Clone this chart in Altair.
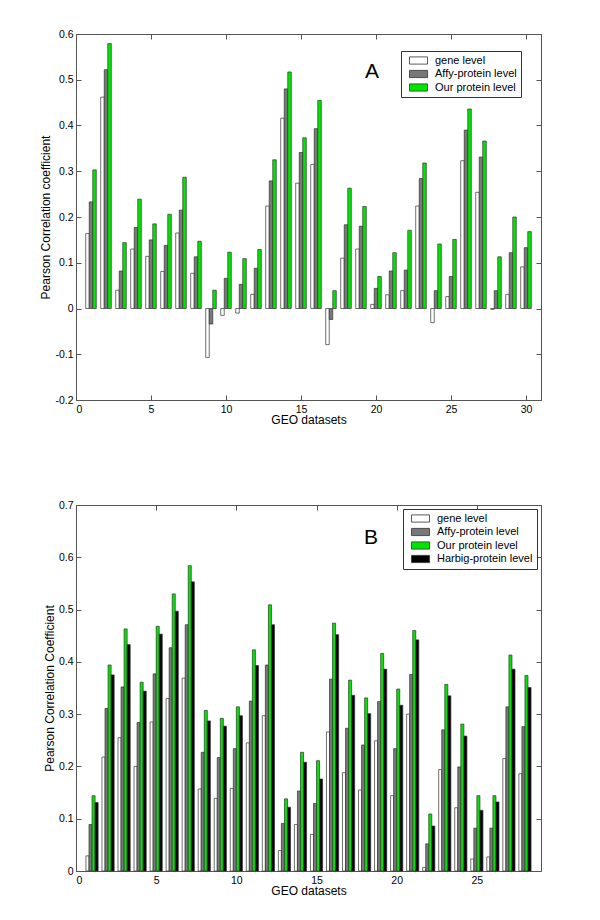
import altair as alt
import pandas as pd

FONT = "Liberation Sans"

# ---------------- Panel A data ----------------
A_datasets = list(range(1, 31))
A_names = ["gene level", "Affy-protein level", "Our protein level"]
A_gene = [0.164, 0.462, 0.040, 0.130, 0.114, 0.081, 0.165, 0.077, -0.107, -0.015,
          -0.010, 0.031, 0.224, 0.416, 0.274, 0.315, -0.079, 0.110, 0.130, 0.009,
          0.030, 0.039, 0.224, -0.031, 0.026, 0.323, 0.254, -0.002, 0.031, 0.091]
A_affy = [0.233, 0.522, 0.082, 0.177, 0.150, 0.138, 0.215, 0.113, -0.034, 0.066,
          0.053, 0.088, 0.279, 0.480, 0.341, 0.393, -0.024, 0.183, 0.180, 0.044,
          0.082, 0.084, 0.284, 0.039, 0.070, 0.390, 0.331, 0.039, 0.122, 0.133]
A_our = [0.303, 0.579, 0.144, 0.239, 0.185, 0.206, 0.287, 0.147, 0.040, 0.123,
         0.109, 0.129, 0.325, 0.517, 0.373, 0.455, 0.039, 0.263, 0.223, 0.070,
         0.122, 0.171, 0.318, 0.141, 0.151, 0.436, 0.366, 0.113, 0.200, 0.168]
A_xticks = [0, 5, 10, 15, 20, 25, 30]
A_yticks = [-0.2, -0.1, 0, 0.1, 0.2, 0.3, 0.4, 0.5, 0.6]

# ---------------- Panel B data ----------------
B_datasets = list(range(1, 29))
B_names = ["gene level", "Affy-protein level", "Our protein level", "Harbig-protein level"]
B_gene = [0.029, 0.218, 0.255, 0.200, 0.285, 0.330, 0.369, 0.157, 0.139, 0.158,
          0.245, 0.297, 0.039, 0.089, 0.070, 0.266, 0.188, 0.155, 0.249, 0.144,
          0.300, 0.007, 0.194, 0.121, 0.023, 0.027, 0.215, 0.186]
B_affy = [0.089, 0.311, 0.352, 0.284, 0.377, 0.427, 0.471, 0.227, 0.217, 0.234,
          0.325, 0.394, 0.091, 0.153, 0.129, 0.367, 0.273, 0.241, 0.324, 0.234,
          0.376, 0.052, 0.270, 0.199, 0.082, 0.082, 0.314, 0.276]
B_our = [0.144, 0.394, 0.463, 0.361, 0.468, 0.530, 0.584, 0.307, 0.292, 0.314,
         0.423, 0.509, 0.138, 0.227, 0.211, 0.474, 0.365, 0.331, 0.416, 0.348,
         0.460, 0.109, 0.357, 0.281, 0.144, 0.144, 0.413, 0.374]
B_harbig = [0.131, 0.375, 0.433, 0.344, 0.453, 0.497, 0.553, 0.287, 0.277, 0.297,
            0.393, 0.471, 0.122, 0.208, 0.176, 0.452, 0.336, 0.301, 0.386, 0.317,
            0.442, 0.086, 0.335, 0.258, 0.116, 0.132, 0.386, 0.351]
B_xticks = [0, 5, 10, 15, 20, 25]
B_yticks = [0, 0.1, 0.2, 0.3, 0.4, 0.5, 0.6, 0.7]

COLORS = {"gene level": "#ffffff", "Affy-protein level": "#787878",
          "Our protein level": "#00e600", "Harbig-protein level": "#000000"}


def to_long(datasets, names, series, w):
    rows = []
    n = len(names)
    for k, (name, vals) in enumerate(zip(names, series)):
        off = (k - (n - 1) / 2) * w
        for d, v in zip(datasets, vals):
            rows.append({"dataset": d, "series": name, "value": v,
                         "x0": d + off - w / 2, "x1": d + off + w / 2})
    return pd.DataFrame(rows)


LABEL_EXPR = "replace(format(datum.value, '.1~f'), '\u2212', '-')"


def panel(df, names, xdom, xticks, ydom, yticks, ytitle, letter, lx, ly, legx, legy):
    xs = alt.Scale(domain=xdom, nice=False, zero=False)
    ys = alt.Scale(domain=ydom, nice=False, zero=False)
    bars = alt.Chart(df).mark_bar(stroke="#333333", strokeWidth=0.7, opacity=1).encode(
        x=alt.X("x0:Q", scale=xs,
                axis=alt.Axis(orient="bottom", values=xticks, format="d", title="GEO datasets",
                              offset=-5, tickSize=5, labelPadding=4, titlePadding=0,
                              domain=False, grid=False)),
        x2="x1",
        y=alt.Y("value:Q", scale=ys,
                axis=alt.Axis(orient="left", values=yticks, labelExpr=LABEL_EXPR, title=ytitle,
                              offset=-5, tickSize=5, labelPadding=3, titlePadding=2,
                              domain=False, grid=False)),
        y2=alt.datum(0),
        color=alt.Color("series:N",
                        scale=alt.Scale(domain=names, range=[COLORS[n] for n in names]),
                        legend=alt.Legend(title=None, orient="none", legendX=legx, legendY=legy,
                                          fillColor="white", strokeColor="#333333", padding=4,
                                          symbolType="M-0.28,-1H4.72V1H-0.28Z", symbolSize=52,
                                          symbolStrokeColor="#333333", symbolStrokeWidth=0.8,
                                          symbolOpacity=1, labelOffset=19, rowPadding=1.5,
                                          labelFont=FONT, labelFontSize=11, labelColor="black")),
    )
    ghost = alt.Chart(df).mark_point(opacity=0).encode(
        x=alt.X("x0:Q", scale=xs,
                axis=alt.Axis(orient="top", values=xticks, labels=False, title=None,
                              offset=-5, tickSize=5, domain=False, grid=False)),
        y=alt.Y("value:Q", scale=ys,
                axis=alt.Axis(orient="right", values=yticks, labels=False, title=None,
                              offset=-5, tickSize=5, domain=False, grid=False)),
    )
    txt = alt.Chart(pd.DataFrame({"label": [letter]})).mark_text(
        font=FONT, fontSize=21, align="center", baseline="alphabetic", color="black"
    ).encode(text="label:N", x=alt.value(lx), y=alt.value(ly))
    return alt.layer(bars, ghost, txt).resolve_axis(x="independent", y="independent").properties(
        width=465, height=366)


dfA = to_long(A_datasets, A_names, [A_gene, A_affy, A_our], 0.235)
dfB = to_long(B_datasets, B_names, [B_gene, B_affy, B_our, B_harbig], 0.19)

pa = panel(dfA, A_names, [0, 31], A_xticks, [-0.2, 0.6], A_yticks,
           "Pearson Correlation coefficient", "A", 296, 44, 325, 17)
pb = panel(dfB, B_names, [0, 29], B_xticks, [0, 0.7], B_yticks,
           "Pearson Correlation Coefficient", "B", 295, 39, 327, 4)

chart = alt.vconcat(pa, pb, spacing=105, bounds="flush").resolve_scale(
    color="independent", x="independent", y="independent"
).resolve_legend(color="independent").properties(
    padding={"left": 31, "top": 20, "right": 5, "bottom": 5}
).configure_view(stroke="#555555", strokeWidth=1).configure_axis(
    labelFont=FONT, titleFont=FONT, labelFontSize=10.5, titleFontSize=12,
    labelColor="black", titleColor="black", tickColor="#555555", titleFontWeight="normal"
).configure_concat(spacing=105)

chart.save("out.html", embed_options={"renderer": "svg", "actions": False})
